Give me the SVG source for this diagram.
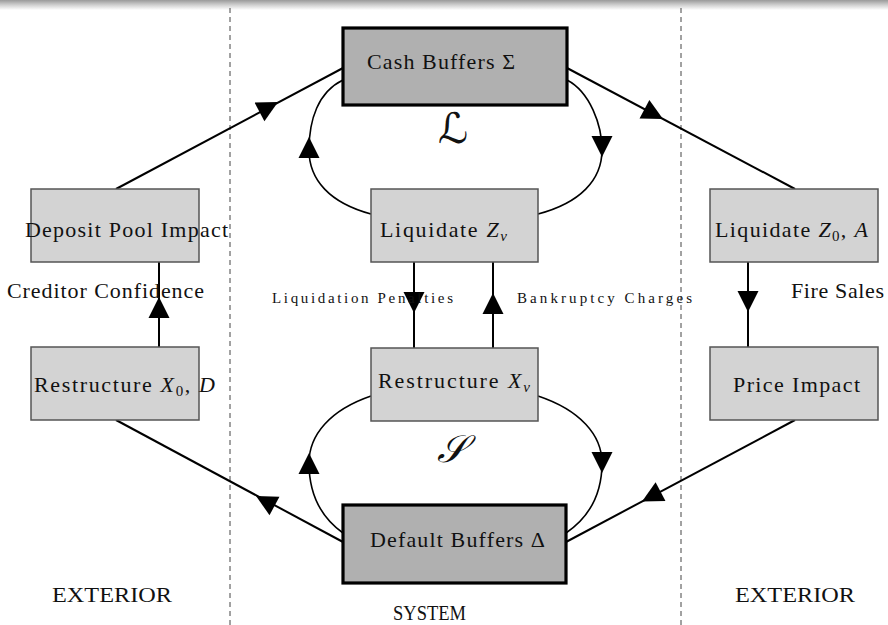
<svg xmlns="http://www.w3.org/2000/svg" xmlns:xlink="http://www.w3.org/1999/xlink" width="888" height="625" viewBox="0 0 888 625">
<defs>
<linearGradient id="topbar" x1="0" y1="0" x2="0" y2="1">
<stop offset="0" stop-color="#9a9a9a"/>
<stop offset="0.5" stop-color="#d0d0d0"/>
<stop offset="1" stop-color="#ffffff"/>
</linearGradient>
<path id="ah" d="M0,0 L-21,-10.5 L-21,10.5 Z"/>
</defs>
<style>
text{font-family:"Liberation Serif","DejaVu Serif",serif;fill:#111}
.t{font-size:22px}
.s{font-size:15px}
.x{font-size:21px}
.m{font-style:italic}
.sub{font-size:15px}
.light{fill:#d3d3d3;stroke:#555;stroke-width:1.5}
.dark{fill:#b0b0b0;stroke:#000;stroke-width:3.2}
.c{fill:none;stroke:#000;stroke-width:2}
.cl{fill:none;stroke:#000;stroke-width:1.6}
.dash{fill:none;stroke:#444;stroke-width:1;stroke-dasharray:5 4}
.ah{fill:#000}
.script{font-family:"DejaVu Serif","DejaVu Sans",serif;font-style:italic}
</style>
<rect x="0" y="0" width="888" height="10" fill="url(#topbar)"/>
<g id="regions">
<line class="dash" x1="230" y1="8" x2="230" y2="625"/>
<line class="dash" x1="681" y1="8" x2="681" y2="625"/>
<text class="x" x="52" y="602" textLength="120" lengthAdjust="spacingAndGlyphs">EXTERIOR</text>
<text class="x" x="393" y="620" textLength="73" lengthAdjust="spacingAndGlyphs">SYSTEM</text>
<text class="x" x="735" y="602" textLength="120" lengthAdjust="spacingAndGlyphs">EXTERIOR</text>
</g>
<g id="connectors">
<line class="c" x1="116" y1="189" x2="343" y2="68"/>
<use href="#ah" class="ah" transform="translate(278,102) rotate(-28.06)"/>
<line class="c" x1="343" y1="542" x2="116" y2="420"/>
<use href="#ah" class="ah" transform="translate(256,496) rotate(-151.74)"/>
<line class="c" x1="567" y1="68" x2="795" y2="189"/>
<use href="#ah" class="ah" transform="translate(663,119) rotate(27.95)"/>
<line class="c" x1="795" y1="420" x2="566" y2="542"/>
<use href="#ah" class="ah" transform="translate(642,501.5) rotate(151.95)"/>
<line class="c" x1="159" y1="262" x2="159" y2="347"/>
<use href="#ah" class="ah" transform="translate(159,297) rotate(-90)"/>
<line class="c" x1="414" y1="262" x2="414" y2="348"/>
<use href="#ah" class="ah" transform="translate(414,313) rotate(90)"/>
<line class="c" x1="493" y1="262" x2="493" y2="348"/>
<use href="#ah" class="ah" transform="translate(493,293) rotate(-90)"/>
<line class="c" x1="748" y1="262" x2="748" y2="347"/>
<use href="#ah" class="ah" transform="translate(748,312) rotate(90)"/>
<path class="cl" d="M343,80 C318,92 309,120 309,150 C309,180 330,203 371,214"/>
<use href="#ah" class="ah" transform="translate(309,137) rotate(-90)"/>
<path class="cl" d="M567,80 C590,92 602,125 602,150 C602,180 580,203 538,214"/>
<use href="#ah" class="ah" transform="translate(602,157) rotate(90)"/>
<path class="cl" d="M371,396 C330,410 309,435 309,463 C309,495 322,518 343,533"/>
<use href="#ah" class="ah" transform="translate(309,453) rotate(-90)"/>
<path class="cl" d="M538,396 C580,410 602,435 602,463 C602,495 588,518 566,533"/>
<use href="#ah" class="ah" transform="translate(602,473) rotate(90)"/>
<text class="s" x="272" y="303" textLength="181" lengthAdjust="spacing">Liquidation Penalties</text>
<text class="s" x="517" y="303" textLength="175" lengthAdjust="spacing">Bankruptcy Charges</text>
<text class="t" x="7" y="298" textLength="197" lengthAdjust="spacing">Creditor Confidence</text>
<text class="t" x="791" y="298" textLength="93" lengthAdjust="spacing">Fire Sales</text>
<text class="script" x="453" y="143" text-anchor="middle" font-size="42">ℒ</text>
<text class="script" x="451" y="462" text-anchor="middle" font-size="38">𝒮</text>
</g>
<g id="cash">
<rect class="dark" x="343" y="28" width="224" height="77"/>
<text class="t" x="367" y="69" textLength="148" lengthAdjust="spacing">Cash Buffers Σ</text>
</g>
<g id="liqZv">
<rect class="light" x="371" y="189" width="167" height="73"/>
<text class="t" x="380" y="237" textLength="127" lengthAdjust="spacing">Liquidate <tspan class="m">Z</tspan><tspan class="m sub" dy="4">v</tspan></text>
</g>
<g id="resXv">
<rect class="light" x="371" y="348" width="167" height="73"/>
<text class="t" x="378" y="388" textLength="152" lengthAdjust="spacing">Restructure <tspan class="m">X</tspan><tspan class="m sub" dy="4">v</tspan></text>
</g>
<g id="default">
<rect class="dark" x="343" y="505" width="223" height="78"/>
<text class="t" x="370" y="547" textLength="175" lengthAdjust="spacing">Default Buffers Δ</text>
</g>
<g id="deposit">
<rect class="light" x="31" y="189" width="168" height="73"/>
<text class="t" x="25" y="237" textLength="203" lengthAdjust="spacing">Deposit Pool Impact</text>
</g>
<g id="resX0">
<rect class="light" x="31" y="347" width="168" height="73"/>
<text class="t" x="34" y="392" textLength="181" lengthAdjust="spacing">Restructure <tspan class="m">X</tspan><tspan class="sub" dy="4">0</tspan><tspan dy="-4">, </tspan><tspan class="m">D</tspan></text>
</g>
<g id="liqZ0">
<rect class="light" x="710" y="189" width="168" height="73"/>
<text class="t" x="715" y="237" textLength="153" lengthAdjust="spacing">Liquidate <tspan class="m">Z</tspan><tspan class="sub" dy="4">0</tspan><tspan dy="-4">, </tspan><tspan class="m">A</tspan></text>
</g>
<g id="price">
<rect class="light" x="710" y="347" width="168" height="73"/>
<text class="t" x="733" y="392" textLength="127" lengthAdjust="spacing">Price Impact</text>
</g>
</svg>
